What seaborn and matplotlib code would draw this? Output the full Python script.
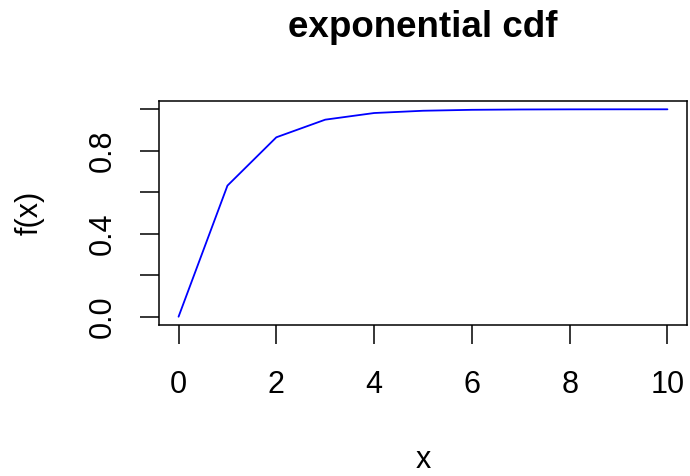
import matplotlib
matplotlib.use("Agg")
import matplotlib.pyplot as plt
import seaborn as sns
import pandas as pd

x_values = [0, 1, 2, 3, 4, 5, 6, 7, 8, 9, 10]
cdf_values = [0.0, 0.632, 0.865, 0.950, 0.982, 0.993, 0.9975, 0.9991, 0.9997, 0.9999, 0.99995]
x_ticks = [0, 2, 4, 6, 8, 10]
y_ticks = [0.0, 0.2, 0.4, 0.6, 0.8, 1.0]
y_tick_labels = ["0.0", "", "0.4", "", "0.8", ""]

sns.set_theme(style="white")
plt.rcParams["font.family"] = ["Liberation Sans", "DejaVu Sans"]

df = pd.DataFrame({"x": x_values, "f(x)": cdf_values})

fig = plt.figure(figsize=(6.9, 4.76), dpi=100)
ax = fig.add_axes([159/690, 1 - 325/476, (687 - 159)/690, (325 - 101)/476])

sns.lineplot(data=df, x="x", y="f(x)", color="blue", linewidth=1.3, ax=ax)

ax.set_xlim(-0.4, 10.4)
ax.set_ylim(-0.04, 1.04)
ax.set_xticks(x_ticks)
ax.set_xticklabels([str(t) for t in x_ticks])
ax.set_yticks(y_ticks)
ax.set_yticklabels(y_tick_labels, rotation=90, va="center")

for s in ax.spines.values():
    s.set_color("black")
    s.set_linewidth(1.1)
    s.set_visible(True)

ax.tick_params(axis="both", which="major", direction="out", length=13.7, width=1.1,
               color="black", labelsize=22, labelcolor="black",
               bottom=True, left=True)
ax.tick_params(axis="x", pad=19)
ax.tick_params(axis="y", pad=16)

ax.set_xlabel("x", fontsize=22, color="black", labelpad=32)
ax.set_ylabel("f(x)", fontsize=22, color="black", labelpad=31)
ax.set_title("exponential cdf", fontsize=26.5, fontweight="bold", color="black", pad=46)

fig.savefig("out.png", dpi=100)
